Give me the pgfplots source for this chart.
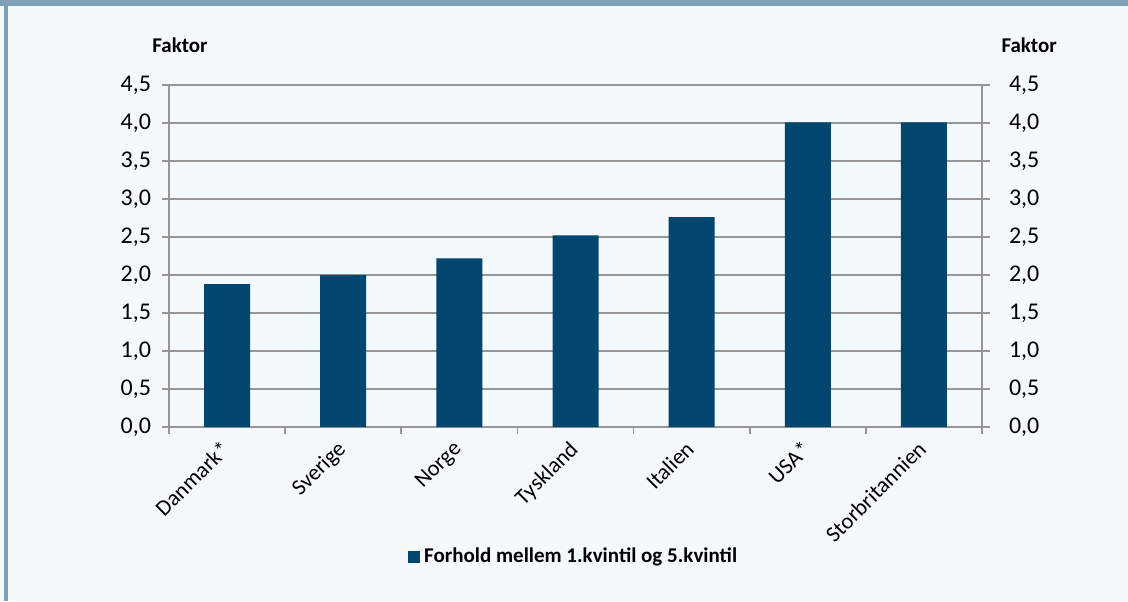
\documentclass[border=0pt]{standalone}
\usepackage{pgfplots}
\pgfplotsset{compat=1.18}
\usepackage{fontspec}
\setmainfont{Carlito}
\definecolor{barblue}{HTML}{00466E}
\definecolor{bgc}{HTML}{F4F9FD}
\definecolor{framec}{HTML}{7FA1B8}
\definecolor{gridc}{HTML}{969696}
\begin{document}
\begin{tikzpicture}[font=\fontsize{10.5}{12}\selectfont]
\useasboundingbox (0,0) rectangle (564pt,300.5pt);
\fill[bgc] (0,0) rectangle (564pt,300.5pt);
\fill[framec] (0,297.5pt) rectangle (564pt,300.5pt);
\fill[framec] (2pt,0) rectangle (4pt,300.5pt);
\begin{axis}[
  at={(84.5pt,87pt)}, anchor=south west,
  scale only axis, width=406.5pt, height=171pt,
  xmin=-0.5, xmax=6.5, ymin=0, ymax=4.5,
  axis x line*=bottom, axis y line*=left,
  axis line style={gridc, line width=0.8pt},
  every tick/.style={gridc, line width=0.8pt},
  tick align=outside,
  major tick length=3.5pt,
  xtick={-0.5,0.5,1.5,2.5,3.5,4.5,5.5,6.5},
  xticklabels={,,,,,,,,},
  extra x ticks={0,1,2,3,4,5,6},
  extra x tick labels={Danmark*,Sverige,Norge,Tyskland,Italien,USA*,Storbritannien},
  extra x tick style={major tick length=0pt, tick label style={rotate=45, anchor=north east, inner sep=1pt, xshift=-5.9pt, yshift=-0.7pt, font=\fontsize{11.2}{13}\selectfont}},
  ytick={0,0.5,1,1.5,2,2.5,3,3.5,4,4.5},
  ymajorgrids, grid style={gridc, line width=0.8pt},
  yticklabel style={/pgf/number format/.cd, fixed, fixed zerofill, precision=1, use comma, assume math mode=true, /tikz/.cd, xshift=-2pt, font=\fontsize{12}{14}\selectfont},
  ybar, bar width=23pt,
  legend style={at={(0.499,-0.38)}, anchor=center, draw=none, fill=none, font=\fontsize{10.5}{12}\selectfont\bfseries, legend columns=1},
  legend image code/.code={\fill[#1] (0pt,-3pt) rectangle (6pt,3pt);},
  clip=false,
]
\addplot[fill=barblue, draw=none, bar shift=0pt] coordinates {(0,1.88) (1,2.0) (2,2.22) (3,2.52) (4,2.76) (5,4.01) (6,4.01)};
\addlegendentry{Forhold mellem 1.kvintil og 5.kvintil}
\node[font=\fontsize{10.5}{12}\selectfont\bfseries] at (rel axis cs:0.0135,1.117) {Faktor};
\node[font=\fontsize{10.5}{12}\selectfont\bfseries] at (rel axis cs:1.058,1.117) {Faktor};
\end{axis}
\begin{axis}[
  at={(84.5pt,87pt)}, anchor=south west,
  scale only axis, width=406.5pt, height=171pt,
  xmin=-0.5, xmax=6.5, ymin=0, ymax=4.5,
  axis x line=none, axis y line*=right,
  axis line style={gridc, line width=0.8pt},
  every tick/.style={gridc, line width=0.8pt},
  tick align=outside,
  major tick length=4pt,
  ytick={0,0.5,1,1.5,2,2.5,3,3.5,4,4.5},
  yticklabel style={/pgf/number format/.cd, fixed, fixed zerofill, precision=1, use comma, assume math mode=true, /tikz/.cd, xshift=6pt, font=\fontsize{12}{14}\selectfont},
]
\addplot[draw=none] coordinates {(0,0)};
\end{axis}
\end{tikzpicture}
\end{document}
